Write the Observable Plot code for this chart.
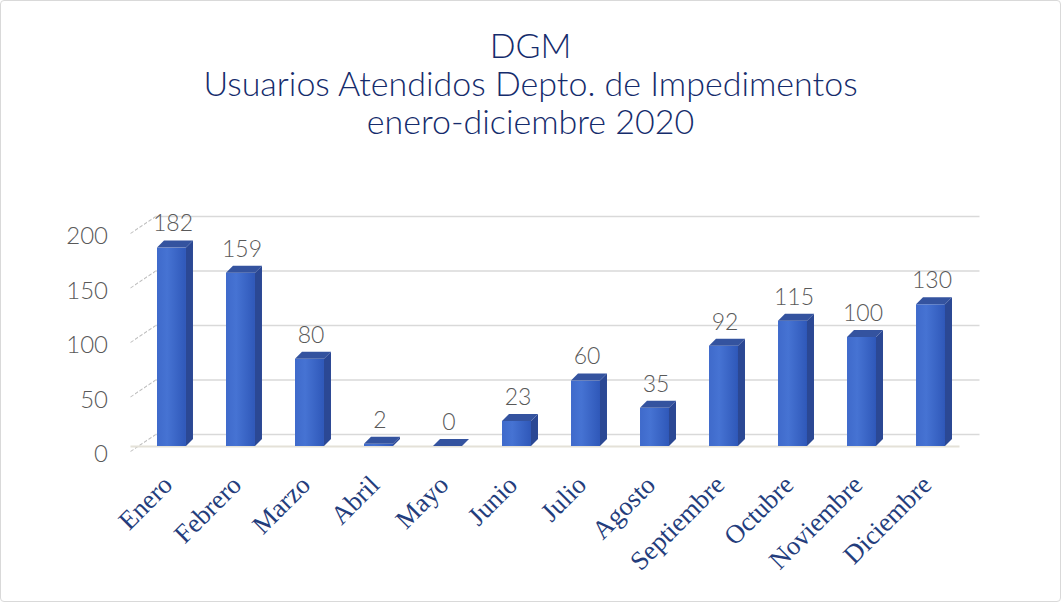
<!DOCTYPE html>
<html>
<head>
<meta charset="utf-8">
<script src="https://cdn.jsdelivr.net/npm/d3@7"></script>
<script src="https://cdn.jsdelivr.net/npm/@observablehq/plot@0.6"></script>
<style>
  html, body { margin: 0; padding: 0; background: #fff; }
  #wrap { position: absolute; left: 0; top: 0; width: 1059px; height: 600px; border: 1px solid #d9d9d9; border-radius: 4px; overflow: hidden; background: #fff; }
  #title { padding-top: 25px; text-align: center; font-family: Lato, "Open Sans", sans-serif; font-weight: 300; font-size: 34px; line-height: 38px; color: #152c6c; }
  #chart svg { display: block; }
</style>
</head>
<body>
<div id="wrap">
  <div id="title">
    <div>DGM</div>
    <div>Usuarios Atendidos Depto. de Impedimentos</div>
    <div>enero-diciembre 2020</div>
  </div>
  <div id="chart"></div>
</div>
<script>
const months = ["Enero", "Febrero", "Marzo", "Abril", "Mayo", "Junio", "Julio", "Agosto", "Septiembre", "Octubre", "Noviembre", "Diciembre"];
const values = [182, 159, 80, 2, 0, 23, 60, 35, 92, 115, 100, 130];
const yTicks = [0, 50, 100, 150, 200];

const data = months.map((m, i) => ({month: m, value: values[i]}));

const W = 1059, H = 458;
const mL = 121.5, mR = 80.5, mT = 88, mB = 152;
const frameW = W - mL - mR;
const depth = 7;

const plot = Plot.plot({
  width: W,
  height: H,
  marginLeft: mL,
  marginRight: mR,
  marginTop: mT,
  marginBottom: mB,
  style: {fontFamily: "Lato, 'Open Sans', sans-serif", fontSize: "20px", background: "transparent"},
  x: {type: "band", domain: months, paddingInner: 0.58, paddingOuter: 0.5, round: false, label: null},
  y: {domain: [0, 200], label: null},
  marks: [
    Plot.ruleY(yTicks, {dy: -12, insetLeft: 33, stroke: "#d9d9d9", strokeWidth: 1.5}),
    Plot.ruleY(yTicks, {dy: 5, insetLeft: 8, insetRight: frameW - 33, stroke: "#bdbdbd", strokeWidth: 1.2, strokeDasharray: "3,1.5", className: "conn"}),
    Plot.ruleY([0], {insetLeft: 8, insetRight: 20, stroke: "#e4e1d8", strokeWidth: 2}),
    Plot.barY(data, {x: "month", y: "value", fill: "url(#frontGrad)", className: "front"}),
    Plot.barY(data, {x: "month", y: "value", fill: "#2b4894", className: "side"}),
    Plot.barY(data, {x: "month", y1: "value", y2: "value", insetTop: -depth, fill: "#34539f", className: "topface"}),
    Plot.text(data, {x: "month", y: "value", text: d => String(d.value), dy: -24, dx: 1, fill: "#595959", fontSize: 23, fontWeight: 300}),
    Plot.axisY({ticks: yTicks, tickSize: 0, tickPadding: 15, dy: 8, fontSize: 24, fill: "#595959", fontWeight: 300}),
    Plot.axisX({tickRotate: -45, tickSize: 0, tickPadding: 34, dx: -4, fontSize: 26.5, fontWeight: 400, fill: "#243d7c", fontFamily: "Liberation Serif"})
  ]
});

document.getElementById("chart").appendChild(plot);

const svg = d3.select(plot);
svg.insert("defs", ":first-child").html(
  `<linearGradient id="frontGrad" x1="0" x2="1" y1="0" y2="0">
     <stop offset="0" stop-color="#3f6acb"/>
     <stop offset="0.35" stop-color="#4673d3"/>
     <stop offset="1" stop-color="#2f58b9"/>
   </linearGradient>`
);

// side faces: move to the right edge of each front face, then skew to a parallelogram
const xs = plot.scale("x");
const bw = xs.bandwidth;
svg.selectAll(".side rect").each(function(_, i) {
  const r = d3.select(this);
  const x0 = xs.apply(months[i]) + bw;
  r.attr("x", x0).attr("width", depth)
   .attr("transform", `translate(${x0},0) skewY(-45) translate(${-x0},0)`);
});
svg.selectAll(".topface rect").each(function() {
  const r = d3.select(this);
  const y0 = parseFloat(r.attr("y")) + parseFloat(r.attr("height"));
  r.attr("transform", `translate(0,${y0}) skewX(-45) translate(0,${-y0})`);
});
svg.selectAll(".conn line").each(function() {
  const l = d3.select(this);
  const x1 = parseFloat(l.attr("x1"));
  l.attr("transform", `translate(${x1},0) skewY(-34) translate(${-x1},0)`);
});
</script>
</body>
</html>
